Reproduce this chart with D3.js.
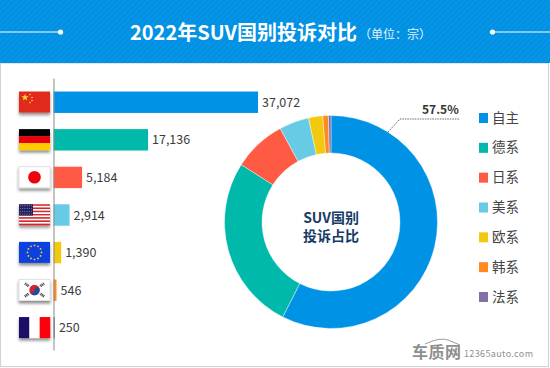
<!DOCTYPE html>
<html>
<head>
<meta charset="utf-8">
<script src="https://cdn.jsdelivr.net/npm/d3@7"></script>
<style>
html, body { margin: 0; padding: 0; background: #fff; }
svg { display: block; }
text { font-family: "Noto Sans CJK SC", "Noto Sans", sans-serif; }
</style>
</head>
<body>
<svg id="chart" width="550" height="368"></svg>
<script>
// values
const countries = ["cn", "de", "jp", "us", "eu", "kr", "fr"];
const barValues = [37072, 17136, 5184, 2914, 1390, 546, 250];
const series = ["自主", "德系", "日系", "美系", "欧系", "韩系", "法系"];
const colors = ["#0092e5", "#00b9ab", "#ff5a43", "#68cbe6", "#f2c90f", "#ff8a1e", "#8270a8"];

const svg = d3.select("#chart");
const defs = svg.append("defs");

const hatch = defs.append("pattern").attr("id", "hatch")
    .attr("width", 4).attr("height", 4)
    .attr("patternUnits", "userSpaceOnUse")
    .attr("patternTransform", "rotate(-45)");
hatch.append("rect").attr("width", 4).attr("height", 4).attr("fill", "#0090e3");
hatch.append("rect").attr("width", 4).attr("height", 1.5).attr("fill", "#0a96e6");

const shadow = defs.append("filter").attr("id", "flagShadow")
    .attr("x", "-20%").attr("y", "-20%").attr("width", "140%").attr("height", "150%");
shadow.append("feDropShadow").attr("dx", 0).attr("dy", 2.5).attr("stdDeviation", 1.4)
    .attr("flood-color", "#000").attr("flood-opacity", 0.45);

// frame + header
svg.append("rect").attr("x", 0.5).attr("y", 63).attr("width", 548).attr("height", 303.5)
    .attr("fill", "#fff").attr("stroke", "#d4d4d4").attr("stroke-width", 1.2);
svg.append("rect").attr("width", 550).attr("height", 63).attr("fill", "url(#hatch)");

const header = svg.append("g");
header.selectAll("line").data([[0, 60], [492, 550]]).join("line")
    .attr("x1", d => d[0]).attr("x2", d => d[1]).attr("y1", 32).attr("y2", 32)
    .attr("stroke", "#fff").attr("stroke-width", 1.2);
header.selectAll("circle").data([60.5, 492.5]).join("circle")
    .attr("cx", d => d).attr("cy", 32).attr("r", 2.6).attr("fill", "#fff");
header.append("text").attr("x", 130).attr("y", 39.5)
    .attr("font-size", 20.5).attr("font-weight", 700).attr("fill", "#fff")
    .attr("textLength", 227).attr("lengthAdjust", "spacingAndGlyphs")
    .text("2022年SUV国别投诉对比");
header.append("text").attr("x", 359).attr("y", 39)
    .attr("font-size", 12).attr("fill", "#e4f3fc")
    .text("（单位：宗）");

// bars
const x = d3.scaleLinear().domain([0, 37072]).range([53.5, 258]);
const y = d3.scaleBand().domain(countries).range([84, 346]).paddingInner(0.43).paddingOuter(0.2);

svg.append("g").selectAll("rect").data(barValues).join("rect")
    .attr("x", x(0))
    .attr("y", (d, i) => y(countries[i]))
    .attr("width", d => x(d) - x(0))
    .attr("height", y.bandwidth())
    .attr("fill", (d, i) => colors[i]);

svg.append("g").selectAll("text").data(barValues).join("text")
    .attr("x", d => x(d) + 4)
    .attr("y", (d, i) => y(countries[i]) + y.bandwidth() / 2 + 4.5)
    .attr("font-size", 12.5).attr("fill", "#3c3c3c")
    .text(d => d3.format(",")(d));

const axis = svg.append("g").attr("transform", "translate(53.5,0)")
    .call(d3.axisLeft(d3.scaleLinear().range([78, 350])).ticks(0).tickSize(0));
axis.select("path").attr("stroke", "#8a8a8a").attr("stroke-width", 1);

// flags, all 31x21
const fw = 31, fh = 21;
const drawFlag = {
    cn(g) {
        g.append("rect").attr("width", fw).attr("height", fh).attr("fill", "#e0291a");
        g.append("path").attr("d", d3.symbol(d3.symbolStar, 16)).attr("transform", "translate(6,6)").attr("fill", "#ffd93b");
        g.selectAll("circle").data([[11, 3], [13, 6], [13, 9], [11, 11]]).join("circle")
            .attr("cx", d => d[0]).attr("cy", d => d[1]).attr("r", 0.8).attr("fill", "#ffd93b");
    },
    de(g) {
        g.selectAll("rect").data(["#000", "#e8000b", "#ffcc00"]).join("rect")
            .attr("y", (d, i) => i * fh / 3).attr("width", fw).attr("height", fh / 3).attr("fill", d => d);
    },
    jp(g) {
        g.append("rect").attr("width", fw).attr("height", fh).attr("fill", "#fff").attr("stroke", "#e2e2e2");
        g.append("circle").attr("cx", fw / 2).attr("cy", fh / 2).attr("r", 6.3).attr("fill", "#f00010");
    },
    us(g) {
        g.selectAll("rect").data(d3.range(13)).join("rect")
            .attr("y", i => i * fh / 13).attr("width", fw).attr("height", fh / 13)
            .attr("fill", i => i % 2 ? "#fff" : "#d8262c");
        g.append("rect").attr("width", 14).attr("height", 11.3).attr("fill", "#23245f");
        g.selectAll("circle").data(d3.range(24)).join("circle")
            .attr("cx", i => 1.5 + (i % 6) * 2.2).attr("cy", i => 1.5 + Math.floor(i / 6) * 2.7)
            .attr("r", 0.45).attr("fill", "#c9cbe6");
    },
    eu(g) {
        g.append("rect").attr("width", fw).attr("height", fh).attr("fill", "#0f3fe0");
        g.selectAll("circle").data(d3.range(12)).join("circle")
            .attr("cx", i => fw / 2 + 7 * Math.cos(i * Math.PI / 6))
            .attr("cy", i => fh / 2 + 7 * Math.sin(i * Math.PI / 6))
            .attr("r", 0.9).attr("fill", "#f5d327");
    },
    kr(g) {
        g.append("rect").attr("width", fw).attr("height", fh).attr("fill", "#fff").attr("stroke", "#e2e2e2");
        g.append("circle").attr("cx", fw / 2).attr("cy", fh / 2).attr("r", 5.2).attr("fill", "#d8232f");
        g.append("path").attr("fill", "#1a4f9c")
            .attr("d", `M${fw / 2 - 5.2},${fh / 2} a5.2,5.2 0 0 0 10.4,0 a2.6,2.6 0 0 0 -5.2,0 a2.6,2.6 0 0 1 -5.2,0z`);
        g.selectAll("line").data([[6, 4, 10, 7], [25, 4, 21, 7], [6, 17, 10, 14], [25, 17, 21, 14]]).join("line")
            .attr("x1", d => d[0]).attr("y1", d => d[1]).attr("x2", d => d[2]).attr("y2", d => d[3])
            .attr("stroke", "#333").attr("stroke-width", 2.6).attr("stroke-dasharray", "1 0.6");
    },
    fr(g) {
        g.selectAll("rect").data(["#1f0a66", "#fff", "#fb0007"]).join("rect")
            .attr("x", (d, i) => i * fw / 3).attr("width", fw / 3 + 0.2).attr("height", fh).attr("fill", d => d);
    }
};
svg.append("g").selectAll("g").data(countries).join("g")
    .attr("transform", d => `translate(19,${y(d)})`)
    .attr("filter", "url(#flagShadow)")
    .each(function (d) { drawFlag[d](d3.select(this)); });

// donut
const cx = 331, cy = 222;
const pie = d3.pie().sort(null).startAngle(0).endAngle(2 * Math.PI);
const arc = d3.arc().innerRadius(69).outerRadius(106.5);
const donut = svg.append("g").attr("transform", `translate(${cx},${cy})`);
donut.selectAll("path").data(pie(barValues)).join("path")
    .attr("d", arc)
    .attr("fill", (d, i) => colors[i])
    .attr("stroke", "#fff").attr("stroke-width", 0.4);

donut.append("text").attr("text-anchor", "middle")
    .attr("font-size", 14).attr("font-weight", 700).attr("fill", "#173b66")
    .selectAll("tspan").data(["SUV国别", "投诉占比"]).join("tspan")
    .attr("x", 0).attr("y", (d, i) => i * 17.5 + 1)
    .text(d => d);

// leader line + share label
const share = d3.format(".1%")(barValues[0] / d3.sum(barValues));
svg.append("path").attr("d", "M388,132 L400,119 L460,119")
    .attr("fill", "none").attr("stroke", "#444").attr("stroke-width", 0.8).attr("stroke-dasharray", "1.5 1");
svg.append("text").attr("x", 422).attr("y", 114)
    .attr("font-size", 12).attr("font-weight", 700).attr("fill", "#333")
    .text(share);

// legend
const legendY = d3.scalePoint().domain(series).range([118, 297]);
const legend = svg.append("g").selectAll("g").data(series).join("g")
    .attr("transform", d => `translate(479,${legendY(d)})`);
legend.append("rect").attr("y", -5).attr("width", 9).attr("height", 10)
    .attr("fill", (d, i) => colors[i]);
legend.append("text").attr("x", 13).attr("y", 4.5)
    .attr("font-size", 13.5).attr("fill", "#444")
    .text(d => d);

// watermark
const mark = svg.append("g").attr("fill", "#8f8f8f");
mark.append("text").attr("x", 412).attr("y", 358).attr("font-size", 16).attr("font-weight", 700)
    .attr("textLength", 49).text("车质网");
mark.append("text").attr("x", 464).attr("y", 357).attr("font-size", 9)
    .attr("textLength", 69).text("12365auto.com");
mark.append("path").attr("d", "M425,344 Q440,337 448,340 L460,345")
    .attr("fill", "none").attr("stroke", "#9a9a9a").attr("stroke-width", 1);
</script>
</body>
</html>
